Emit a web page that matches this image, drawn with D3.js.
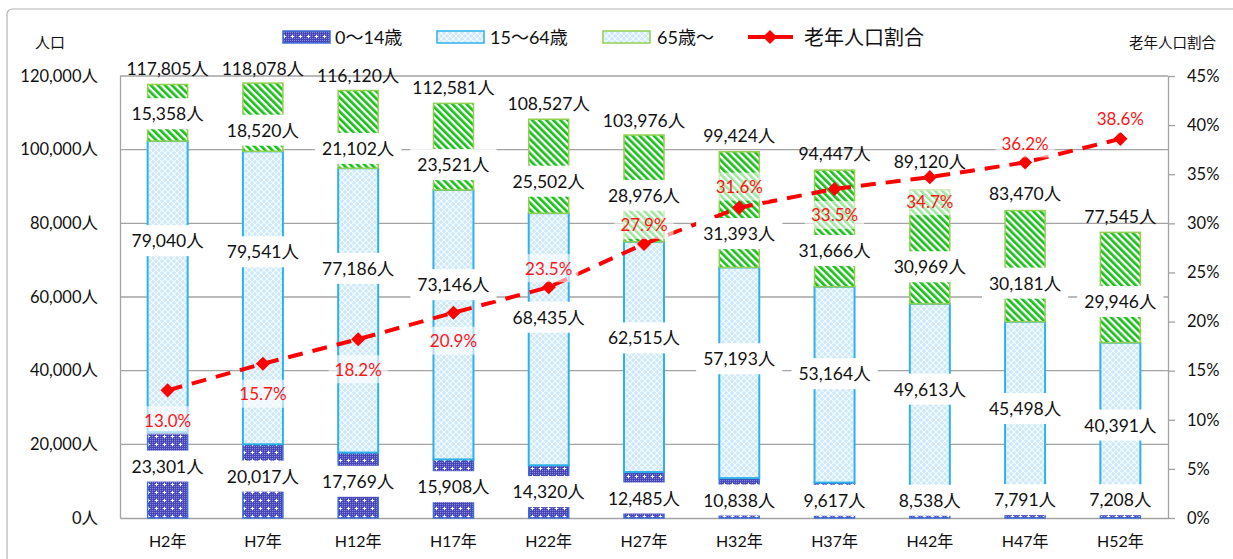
<!DOCTYPE html>
<html><head><meta charset="utf-8">
<script src="https://cdn.jsdelivr.net/npm/d3@7"></script>
<style>
html,body{margin:0;padding:0;background:#fff;}
svg{display:block;font-family:"Lato","Noto Sans CJK JP",sans-serif;}
</style></head>
<body>
<svg id="chart" width="1233" height="559"></svg>
<script>
// ---------------- data ----------------
const categories = ["H2年","H7年","H12年","H17年","H22年","H27年","H32年","H37年","H42年","H47年","H52年"];
const age0_14  = [23301,20017,17769,15908,14320,12485,10838,9617,8538,7791,7208];
const age15_64 = [79040,79541,77186,73146,68435,62515,57193,53164,49613,45498,40391];
const age65    = [15358,18520,21102,23521,25502,28976,31393,31666,30969,30181,29946];
const totals   = [117805,118078,116120,112581,108527,103976,99424,94447,89120,83470,77545];
const elderRatio = [13.0,15.7,18.2,20.9,23.5,27.9,31.6,33.5,34.7,36.2,38.6];
const leftTicks  = [0,20000,40000,60000,80000,100000,120000];
const rightTicks = [0,5,10,15,20,25,30,35,40,45];
const seriesNames = ["0～14歳","15～64歳","65歳～","老年人口割合"];

// ---------------- layout (label nudges in px, not data) ----------------
const nudge = {
  total: [-16,-15,-15,-16,-16,-15,-16,-17,-28,-17,-16],
  a65:   [1,13,19,18,15,7,24,22,20,17,14],
  a1564: [-46,-46,-42,-40,-22,-19,-14,-11,-6,3,8],
  a014:  [-9,-5,-4,-2,0,3,2,0,-2,-4,-5],
  pct:   [30,30,30,28,-19,-19,-21,26,24,-19,-20]
};

const svg = d3.select("#chart");
const L = 120, R = 1168, T = 76, B = 518;

const x = d3.scaleBand().domain(categories).range([L,R]).paddingInner(0.58).paddingOuter(0.29);
const yL = d3.scaleLinear().domain([0,120000]).range([B,T]);
const yR = d3.scaleLinear().domain([0,45]).range([B,T]);
const cx = c => x(c) + x.bandwidth()/2;

// ---------------- patterns ----------------
const defs = svg.append("defs");
const p1 = defs.append("pattern").attr("id","pKid").attr("patternUnits","userSpaceOnUse").attr("width",8).attr("height",8);
p1.append("rect").attr("width",8).attr("height",8).attr("fill","#4646b6");
for (let i=0;i<8;i+=2) for (let j=0;j<8;j+=2) p1.append("rect").attr("x",i).attr("y",j).attr("width",1).attr("height",1).attr("fill","#8c8cda");
p1.append("rect").attr("x",3).attr("y",4).attr("width",3).attr("height",1).attr("fill","#fff");
p1.append("rect").attr("x",4).attr("y",3).attr("width",1).attr("height",3).attr("fill","#fff");
const p2 = defs.append("pattern").attr("id","pWork").attr("patternUnits","userSpaceOnUse").attr("width",6).attr("height",6);
p2.append("rect").attr("width",6).attr("height",6).attr("fill","#cde8f9");
p2.append("path").attr("d","M0,0L6,6M6,0L0,6").attr("stroke","#f6fcff").attr("stroke-width",1.1);
const p3 = defs.append("pattern").attr("id","pOld").attr("patternUnits","userSpaceOnUse").attr("width",5).attr("height",5).attr("patternTransform","rotate(-45)");
p3.append("rect").attr("width",5).attr("height",5).attr("fill","#fff");
p3.append("rect").attr("width",2.7).attr("height",5).attr("fill","#1cbf1c");

const fills = ["url(#pKid)","url(#pWork)","url(#pOld)"];
const strokes = ["#3f6fd6","#2db2ec","#92d050"];

// ---------------- frame ----------------
svg.append("rect").attr("x",7).attr("y",9).attr("width",1300).attr("height",700).attr("rx",5)
  .attr("fill","none").attr("stroke","#b4b4b4").attr("stroke-width",1.2);

// ---------------- grid ----------------
const gridG = svg.append("g");
gridG.selectAll("line").data(leftTicks.filter(v=>v>0)).join("line")
  .attr("x1",L).attr("x2",R).attr("y1",d=>yL(d)).attr("y2",d=>yL(d))
  .attr("stroke","#a3a3a3").attr("stroke-width",1.3);

// ---------------- axes ----------------
const fmtN = d3.format(",");
const axL = svg.append("g").attr("transform",`translate(${L},0)`)
  .call(d3.axisLeft(yL).tickValues(leftTicks).tickSize(0).tickPadding(22).tickFormat(d=>fmtN(d)+"人"));
axL.select(".domain").attr("stroke","#a3a3a3").attr("stroke-width",1.3);
axL.selectAll("text").attr("font-size",16.5).attr("fill","#111").attr("font-family","Lato, 'Noto Sans CJK JP'");

const axR = svg.append("g").attr("transform",`translate(${R},0)`)
  .call(d3.axisRight(yR).tickValues(rightTicks).tickSize(7).tickSizeOuter(0).tickPadding(12).tickFormat(d=>d+"%"));
axR.select(".domain").attr("stroke","#a3a3a3").attr("stroke-width",1.3);
axR.selectAll("line").attr("stroke","#a3a3a3").attr("stroke-width",1.3);
axR.selectAll("text").attr("font-size",16.5).attr("fill","#111").attr("font-family","Lato, 'Noto Sans CJK JP'");

const axB = svg.append("g").attr("transform",`translate(0,${B})`)
  .call(d3.axisBottom(x).tickSize(0).tickPadding(18));
axB.select(".domain").attr("stroke","#a3a3a3").attr("stroke-width",1.3);
axB.selectAll("text").attr("font-size",16).attr("fill","#111").attr("font-family","Lato, 'Noto Sans CJK JP'");

// ---------------- bars ----------------
const rows = categories.map((c,i)=>({cat:c, a:age0_14[i], b:age15_64[i], c65:age65[i]}));
const stack = d3.stack().keys(["a","b","c65"])(rows);
const barG = svg.append("g");
stack.forEach((s,k)=>{
  barG.append("g").selectAll("rect").data(s).join("rect")
    .attr("x",d=>x(d.data.cat)).attr("width",x.bandwidth())
    .attr("y",d=>yL(d[1])).attr("height",d=>yL(d[0])-yL(d[1]))
    .attr("fill",fills[k]).attr("stroke",strokes[k]).attr("stroke-width",k===1?2:1.5);
});

// ---------------- line ----------------
const lineG = svg.append("g");
const line = d3.line().x((d,i)=>cx(categories[i])).y(d=>yR(d));
lineG.append("path").datum(elderRatio).attr("d",line).attr("fill","none")
  .attr("stroke","#ff0000").attr("stroke-width",4).attr("stroke-dasharray","15,10");
lineG.selectAll("path.m").data(elderRatio).join("path").attr("class","m")
  .attr("d",d3.symbol(d3.symbolSquare,100))
  .attr("transform",(d,i)=>`translate(${cx(categories[i])},${yR(d)}) rotate(45)`)
  .attr("fill","#ff0000");

// ---------------- value labels ----------------
const labG = svg.append("g");
function boxLabel(txt, px, py, opt){
  const g = labG.append("g");
  const r = g.append("rect");
  const t = g.append("text").attr("x",px).attr("y",py).attr("text-anchor","middle")
    .attr("dominant-baseline","central").attr("font-size",opt.size||17).attr("fill",opt.color||"#111").text(txt);
  if (opt.box){
    const w = t.node().getComputedTextLength();
    r.attr("x",px-w/2-opt.padX).attr("y",py-opt.h/2).attr("width",w+2*opt.padX).attr("height",opt.h)
      .attr("fill","#fff").attr("fill-opacity",opt.op==null?1:opt.op);
  } else r.remove();
}
const vfmt = v => fmtN(v)+"人";
categories.forEach((c,i)=>{
  const X = cx(c);
  const s0 = age0_14[i], s1 = s0+age15_64[i], s2 = s1+age65[i];
  boxLabel(vfmt(age65[i]),   X, (yL(s1)+yL(s2))/2 + nudge.a65[i],   {box:true,padX:7,h:31,size:17.5});
  boxLabel(vfmt(age15_64[i]),X, (yL(s0)+yL(s1))/2 + nudge.a1564[i], {box:true,padX:7,h:31,size:17.5});
  boxLabel(vfmt(age0_14[i]), X, (yL(0)+yL(s0))/2 + nudge.a014[i],   {box:true,padX:7,h:31,size:17.5});
  boxLabel(vfmt(totals[i]),  X, yL(s2) + nudge.total[i],            {box:false,size:17.5});
});
elderRatio.forEach((p,i)=>{
  boxLabel(p.toFixed(1)+"%", cx(categories[i]), yR(p)+nudge.pct[i],
    {box:true,padX:6,h:28,op:0.6,size:17,color:"#ff1414"});
});

// ---------------- titles ----------------
svg.append("text").attr("x",50).attr("y",42).attr("text-anchor","middle").attr("dominant-baseline","central")
  .attr("font-size",15).attr("fill","#111").text("人口");
svg.append("text").attr("x",1216).attr("y",42).attr("text-anchor","end").attr("dominant-baseline","central")
  .attr("font-size",14.5).attr("fill","#111").text("老年人口割合");

// ---------------- legend ----------------
const lg = svg.append("g");
const legY = 37;
const legItems = [
  {sx:283, tx:335, fill:fills[0], stroke:strokes[0], name:seriesNames[0]},
  {sx:437, tx:490, fill:fills[1], stroke:strokes[1], name:seriesNames[1]},
  {sx:603, tx:657, fill:fills[1], stroke:strokes[2], name:seriesNames[2]}
];
legItems.forEach(it=>{
  lg.append("rect").attr("x",it.sx).attr("y",legY-6).attr("width",47).attr("height",12)
    .attr("fill",it.fill).attr("stroke",it.stroke).attr("stroke-width",1.5);
  lg.append("text").attr("x",it.tx).attr("y",legY).attr("dominant-baseline","central")
    .attr("font-size",18).attr("fill","#111").text(it.name);
});
lg.append("line").attr("x1",748).attr("x2",793).attr("y1",legY).attr("y2",legY)
  .attr("stroke","#ff0000").attr("stroke-width",4);
lg.append("path").attr("d",d3.symbol(d3.symbolSquare,100))
  .attr("transform",`translate(770,${legY}) rotate(45)`).attr("fill","#ff0000");
lg.append("text").attr("x",804).attr("y",legY).attr("dominant-baseline","central")
  .attr("font-size",20).attr("fill","#111").text(seriesNames[3]);
</script>
</body></html>
